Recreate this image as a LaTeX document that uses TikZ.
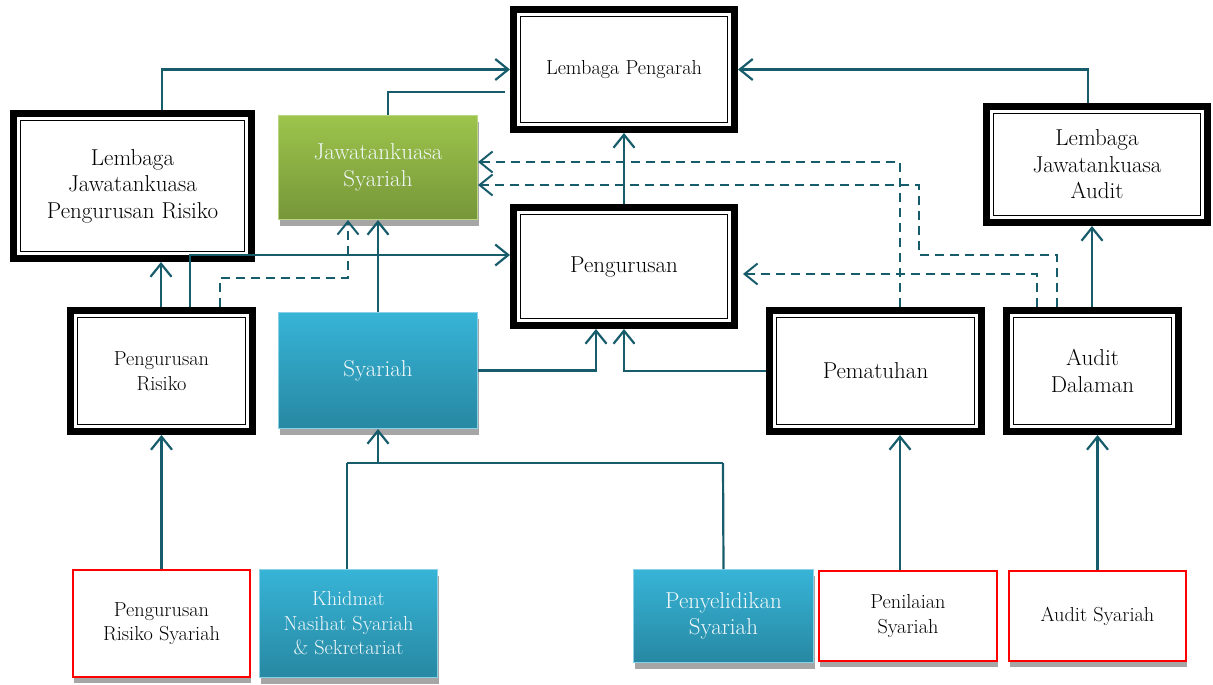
\documentclass[tikz,border=0pt]{standalone}
\usepackage{tikz}
\usetikzlibrary{arrows.meta, shadows}
\definecolor{linkcol}{RGB}{23,92,106}
\definecolor{hijauA}{RGB}{157,196,76}
\definecolor{hijauB}{RGB}{118,150,57}
\definecolor{biruA}{RGB}{55,180,215}
\definecolor{biruB}{RGB}{39,136,162}
\definecolor{tulisan}{RGB}{242,248,250}
\newcommand{\fontbig}{\fontsize{23}{26.5}\selectfont}
\newcommand{\fontsmall}{\fontsize{20.3}{24.5}\selectfont}
\tikzstyle{arrow} = [line width=2.2pt, draw=linkcol, -{Straight Barb[length=13pt,width=21pt]}]
\tikzstyle{arrow_D} = [arrow, line width=2pt, dash pattern=on 9pt off 6pt]
\tikzstyle{link} = [line width=2.2pt, draw=linkcol]
\tikzstyle{lembaga} = [
rectangle, draw=black, line width=7pt, fill=white, align=center,
text centered, inner sep=0pt, font=\fontbig,
path picture={\draw[line width=1.6pt] ([shift={(7pt,7pt)}]path picture bounding box.south west) rectangle ([shift={(-7pt,-7pt)}]path picture bounding box.north east);}
]
\tikzstyle{kotak_G} = [
rectangle, draw=hijauA!70!white, line width=1pt, top color=hijauA, bottom color=hijauB,
text=tulisan, align=center, inner sep=0pt, font=\fontbig,
drop shadow={shadow xshift=1.5pt, shadow yshift=-6pt, fill=black!35, opacity=1}
]
\tikzstyle{kotak_B} = [
rectangle, draw=biruA!60!white, line width=1pt, top color=biruA, bottom color=biruB,
text=tulisan, align=center, inner sep=0pt, font=\fontbig,
drop shadow={shadow xshift=1.5pt, shadow yshift=-6pt, fill=black!35, opacity=1}
]
\tikzstyle{kotak_R} = [
rectangle, draw=red, line width=2pt, fill=white, align=center,
inner sep=0pt, font=\fontsmall,
drop shadow={shadow xshift=1pt, shadow yshift=-6pt, fill=black!35, opacity=1}
]

\begin{document}
\begin{tikzpicture}[x=1pt, y=-1pt]
			\useasboundingbox (0,0) rectangle (1213,685);

			% Nodes lembaga
			\node (L_Pengarah) [lembaga, font=\fontsmall, minimum width=221pt, minimum height=120pt] at (624,69.5) {Lembaga Pengarah};
			\node (Pengurusan) [lembaga, minimum width=221pt, minimum height=118pt] at (624,266.5) {Pengurusan};
			\node (LJ_Risiko) [lembaga, minimum width=238pt, minimum height=145pt] at (132.5,186) {Lembaga\\Jawatankuasa\\Pengurusan Risiko};
			\node (LJ_Audit) [lembaga, minimum width=221pt, minimum height=116pt] at (1097,164.5) {Lembaga\\Jawatankuasa\\Audit};
			\node (P_Risiko) [lembaga, font=\fontsmall, minimum width=182pt, minimum height=121pt] at (161.5,371) {Pengurusan\\Risiko};
			\node (Pematuhan) [lembaga, minimum width=212pt, minimum height=121pt] at (875.5,371) {Pematuhan};
			\node (A_Dalaman) [lembaga, minimum width=172pt, minimum height=121pt] at (1092.5,371) {Audit\\Dalaman};

			% Nodes syariah
			\node (JK_Syariah) [kotak_G, minimum width=199pt, minimum height=104pt] at (378,167.5) {Jawatankuasa\\Syariah};
			\node (Syariah) [kotak_B, minimum width=199pt, minimum height=116pt] at (378,370.5) {Syariah};
			\node (Khidmat) [kotak_B, font=\fontsmall, minimum width=178pt, minimum height=108pt] at (348.5,623.5) {Khidmat\\Nasihat Syariah\\\& Sekretariat};
			\node (Penyelidikan) [kotak_B, minimum width=180pt, minimum height=93pt] at (723.5,616) {Penyelidikan\\Syariah};

			% Nodes bawah
			\node (PR_Syariah) [kotak_R, minimum width=177pt, minimum height=107pt] at (161.5,623.5) {Pengurusan\\Risiko Syariah};
			\node (Penilaian) [kotak_R, minimum width=178pt, minimum height=90pt] at (908,616) {Penilaian\\Syariah};
			\node (A_Syariah) [kotak_R, minimum width=177pt, minimum height=90pt] at (1097.5,616) {Audit Syariah};

			\coordinate (JS_end) at (505,92);
			\coordinate (J_left) at (347,463);
			\coordinate (J_right) at (723,463);

			% Connections
			\draw [arrow] (LJ_Risiko.north -| 162,0) |- (L_Pengarah.west);
			\draw [link] (JK_Syariah.north -| 388,0) |- (JS_end);
			\draw [arrow] (LJ_Audit.north -| 1088,0) |- (L_Pengarah.east);
			\draw [arrow] (Pengurusan.north) -- (L_Pengarah.south);
			\draw [arrow] (P_Risiko.north -| 161,0) -- (LJ_Risiko.south -| 161,0);
			\draw [arrow] (P_Risiko.north -| 190,0) |- (Pengurusan.west |- 0,255);
			\draw [arrow] (Syariah.north) -- (JK_Syariah.south);
			\draw [arrow] (Syariah.east) -| (Pengurusan.south -| 596,0);
			\draw [arrow] (Pematuhan.west) -| (Pengurusan.south);
			\draw [arrow] (A_Dalaman.north -| 1092,0) -- (LJ_Audit.south -| 1092,0);

			% Dashed connections
			\draw [arrow_D] (P_Risiko.north -| 220,0) -- (220,278) -| (JK_Syariah.south -| 348,0);
			\draw [arrow_D] (Pematuhan.north -| 900,0) |- (JK_Syariah.east |- 0,162);
			\draw [arrow_D] (A_Dalaman.north -| 1057,0) -- (1057,255) -| (919,185) -- (JK_Syariah.east |- 0,185);
			\draw [arrow_D] (A_Dalaman.north -| 1037,0) |- ([xshift=5pt]Pengurusan.east |- 0,274);

			% Bottom connections
			\draw [arrow] (PR_Syariah.north) -- (P_Risiko.south);
			\draw [link] (Khidmat.north -| J_left) -- (J_left);
			\draw [link] (Penyelidikan.north) -- (J_right);
			\draw [link] (J_left) -- (J_right);
			\draw [arrow] (J_left -| Syariah.south) -- (Syariah.south);
			\draw [arrow] (Penilaian.north -| 900,0) -- (Pematuhan.south -| 900,0);
			\draw [arrow] (A_Syariah.north) -- (A_Syariah.north |- A_Dalaman.south);

		\end{tikzpicture}
\end{document}
